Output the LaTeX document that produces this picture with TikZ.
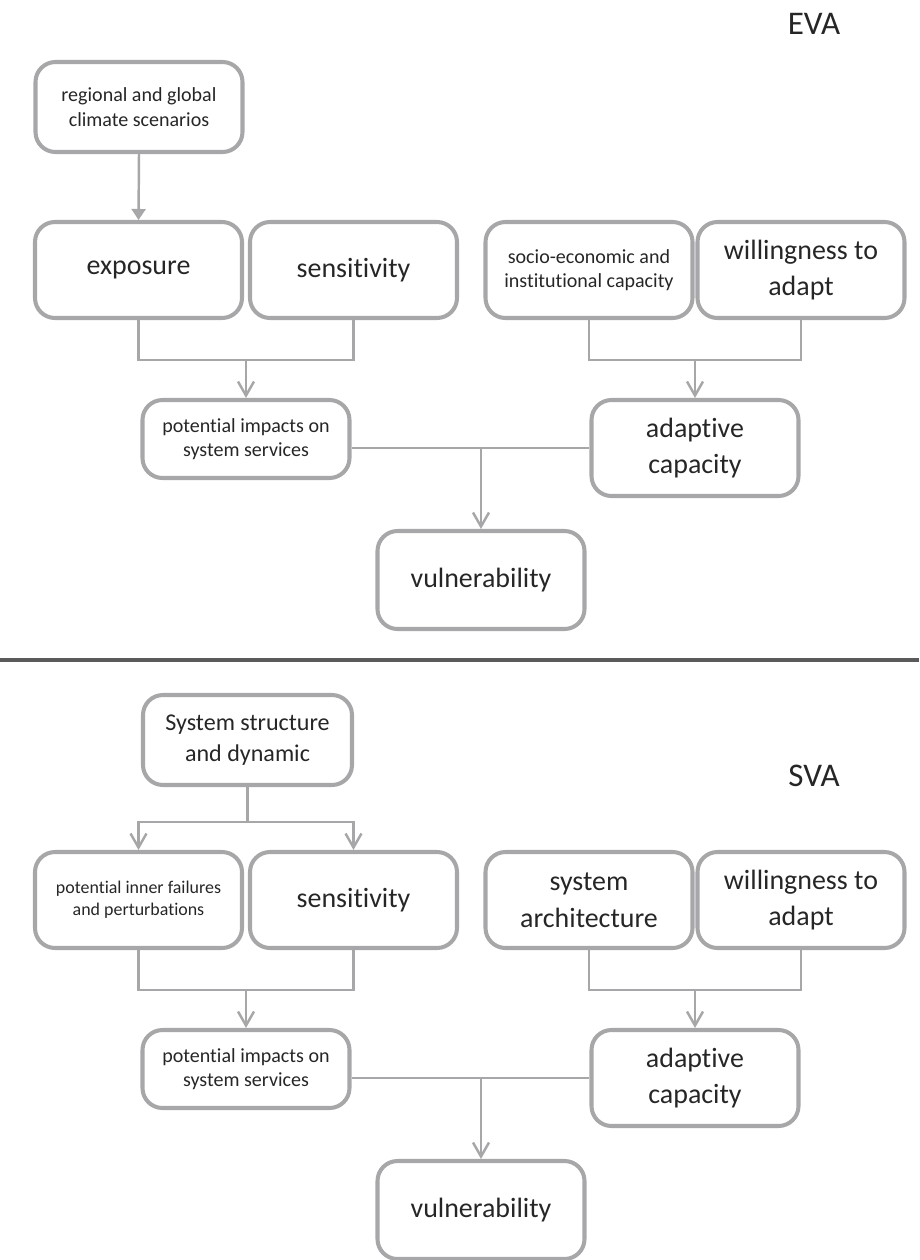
\documentclass[tikz,border=0pt]{standalone}
\usepackage{fontspec}
\setmainfont[Ligatures=NoCommon]{Carlito}
\usetikzlibrary{arrows.meta}
\definecolor{framegray}{HTML}{A7A7AA}
\definecolor{rulegray}{HTML}{5A5A5A}
\definecolor{inkgray}{HTML}{262626}
\begin{document}
\begin{tikzpicture}[x=1cm,y=1cm,
  box/.style={draw=framegray,line width=2.3pt,rounded corners=0.4cm,inner sep=0pt,
    minimum width=4.14cm,minimum height=1.92cm,align=center,text=inkgray},
  bigtext/.style={font=\fontsize{15.9}{20.9}\selectfont},
  midtext/.style={font=\fontsize{13.7}{17.5}\selectfont},
  smalltext/.style={font=\fontsize{11.4}{13.8}\selectfont},
  tinytext/.style={font=\fontsize{10.2}{12.3}\selectfont},
  title/.style={font=\fontsize{18.8}{22}\selectfont,text=inkgray},
  link/.style={draw=framegray,line width=1.4pt},
  barb/.style={link,-{Straight Barb[length=0.28cm,width=0.32cm]}},
  fillarrow/.style={link,-{Triangle[length=0.22cm,width=0.28cm]}}]
\useasboundingbox (0,0) rectangle (18.38,-25.2);

% EVA
\node[title] (evatitle) at (16.28,-0.48) {EVA};
\node[box,smalltext,minimum height=1.8cm] (climate) at (2.78,-2.14) {regional and global\\climate scenarios};
\node[box,bigtext] (expo) at (2.77,-5.40) {exposure};
\node[box,bigtext] (sens) at (7.07,-5.40) {sensitivity};
\node[box,smalltext] (socio) at (11.78,-5.40) {socio-economic and\\institutional capacity};
\node[box,bigtext] (will) at (16.02,-5.40) {willingness to\\adapt};
\node[box,smalltext,minimum height=1.56cm] (impacts) at (4.92,-8.78) {potential impacts on\\system services};
\node[box,bigtext] (adapt) at (13.90,-8.96) {adaptive\\capacity};
\node[box,bigtext,minimum height=1.96cm] (vuln) at (9.62,-11.60) {vulnerability};

\coordinate (jexpo) at (4.92,-7.2);
\coordinate (jsocio) at (13.90,-7.2);

\draw[fillarrow] (climate.south) -- (expo.north);
\draw[link] (expo.south) |- (jexpo) -| (sens.south);
\draw[barb] (jexpo) -- (impacts.north);
\draw[link] (socio.south) |- (jsocio) -| (will.south);
\draw[barb] (jsocio) -- (adapt.north);
\draw[link] (impacts.east |- adapt.west) -- (adapt.west);
\draw[barb] (vuln.north |- adapt.west) -- (vuln.north);

\draw[rulegray,line width=2.3pt] (0,-13.2) -- (18.38,-13.2);

% SVA
\node[title] (svatitle) at (16.28,-15.52) {SVA};
\node[box,midtext,minimum height=1.8cm,minimum width=4.18cm] (system) at (4.95,-14.80) {System structure\\and dynamic};
\node[box,tinytext] (fail) at (2.77,-18.00) {potential inner failures\\and perturbations};
\node[box,bigtext] (sens2) at (7.07,-18.00) {sensitivity};
\node[box,bigtext] (arch) at (11.78,-18.00) {system\\architecture};
\node[box,bigtext] (will2) at (16.02,-18.00) {willingness to\\adapt};
\node[box,smalltext,minimum height=1.56cm] (impacts2) at (4.92,-21.38) {potential impacts on\\system services};
\node[box,bigtext] (adapt2) at (13.90,-21.56) {adaptive\\capacity};
\node[box,bigtext,minimum height=1.96cm] (vuln2) at (9.62,-24.20) {vulnerability};

\coordinate (jsystem) at (4.95,-16.44);
\coordinate (jfail) at (4.92,-19.8);
\coordinate (jarch) at (13.90,-19.8);

\draw[link] (system.south) -- (jsystem);
\draw[barb] (jsystem) -| (fail.north);
\draw[barb] (jsystem) -| (sens2.north);
\draw[link] (fail.south) |- (jfail) -| (sens2.south);
\draw[barb] (jfail) -- (impacts2.north);
\draw[link] (arch.south) |- (jarch) -| (will2.south);
\draw[barb] (jarch) -- (adapt2.north);
\draw[link] (impacts2.east |- adapt2.west) -- (adapt2.west);
\draw[barb] (vuln2.north |- adapt2.west) -- (vuln2.north);
\end{tikzpicture}
\end{document}
